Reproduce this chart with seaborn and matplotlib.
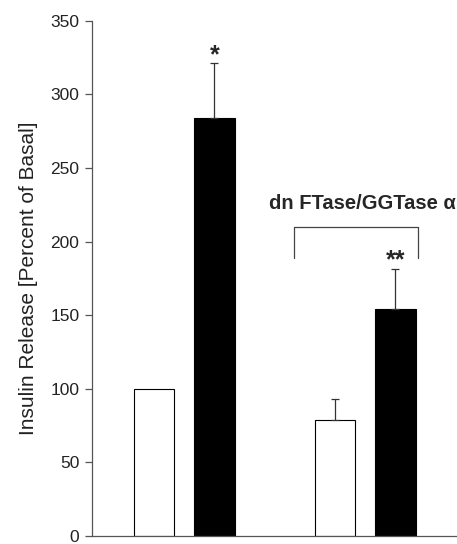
# Insulin release bar chart (percent of basal), control vs dn FTase/GGTase alpha
import numpy as np
import pandas as pd
import matplotlib
matplotlib.use("Agg")
import matplotlib.pyplot as plt
import seaborn as sns

# ---- Data ----
positions = [0, 1, 3, 4]
treatment = ["basal", "stimulated", "basal", "stimulated"]
release = [100, 284, 79, 154]
err_upper = [0, 37, 14, 27.6]
stars = ["", "*", "", "**"]

df = pd.DataFrame({"pos": positions, "treatment": treatment, "release": release})

sns.set_style("white")
plt.rcParams["font.family"] = ["Liberation Sans", "DejaVu Sans"]

fig = plt.figure(figsize=(4.57, 5.44), dpi=100)
ax = fig.add_axes([0.2013, 0.0147, 0.7987, 0.9473])

sns.barplot(
    data=df, x="pos", y="release", hue="treatment",
    palette={"basal": "white", "stimulated": "black"},
    native_scale=True, dodge=False, width=0.667,
    edgecolor="black", linewidth=0.8, legend=False, errorbar=None, ax=ax,
)

# upper error bars only
pos_e = [p for p, e in zip(positions, err_upper) if e > 0]
val_e = [v for v, e in zip(release, err_upper) if e > 0]
err_e = [e for e in err_upper if e > 0]
ax.errorbar(pos_e, val_e, yerr=[np.zeros(len(err_e)), err_e], fmt="none",
            ecolor="#333333", elinewidth=0.9, capsize=3, capthick=0.9)

# significance stars
for p, v, e, s in zip(positions, release, err_upper, stars):
    if s:
        ax.text(p, v + e + 1, s, ha="center", va="baseline", fontsize=18,
                fontweight="bold")

# bracket for dn FTase/GGTase group
ax.plot([2.32, 2.32, 4.38, 4.38], [188.7, 210, 210, 188.7],
        color="#444444", lw=0.9)
ax.text(3.46, 226, "dn FTase/GGTase \u03b1", ha="center", va="center",
        fontsize=14.5, fontweight="bold")

ax.set_xlim(-1.03, 5.02)
ax.set_ylim(0, 350)
ax.set_yticks(np.arange(0, 351, 50))
ax.set_xticks([])
ax.set_xlabel("")
ax.set_ylabel("Insulin Release [Percent of Basal]", fontsize=15, labelpad=9,
              color="#222222")

for side in ["top", "right"]:
    ax.spines[side].set_visible(False)
for side in ["left", "bottom"]:
    ax.spines[side].set_color("#555555")
    ax.spines[side].set_linewidth(0.9)
ax.tick_params(axis="y", left=True, length=5, width=0.9, color="#555555",
               labelsize=12.5, labelcolor="#222222", pad=4)

fig.savefig("out.png", dpi=100)
